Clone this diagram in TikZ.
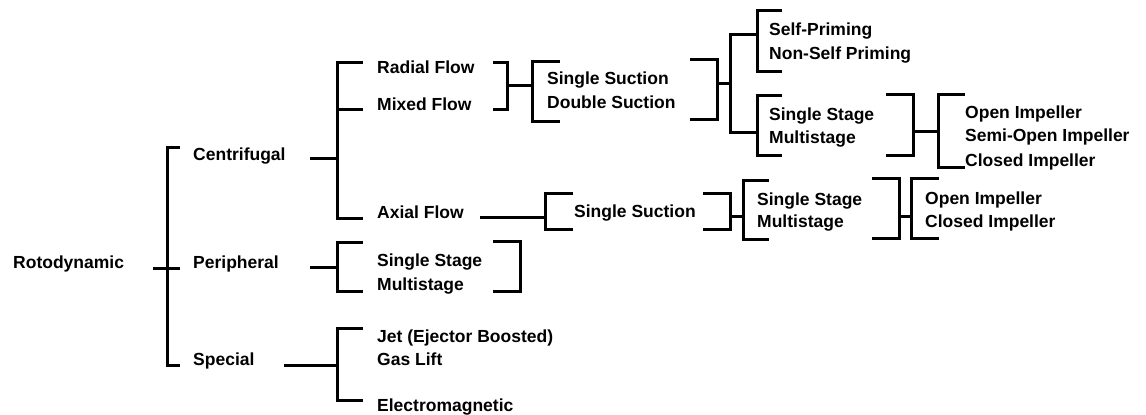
\documentclass[tikz,border=0pt]{standalone}
\usepackage{fontspec}
\setmainfont{Liberation Sans}
\newcommand{\lblfont}{\bfseries\fontsize{17.5}{21}\selectfont}
\tikzset{
  lbl/.style={anchor=base west,inner sep=0pt,font=\lblfont},
  brk/.style={line width=3pt,line join=miter}
}
\begin{document}
\begin{tikzpicture}[x=1pt,y=-1pt]
  \useasboundingbox (0,0) rectangle (1146,415);
  % labels
  \node[lbl] (rot) at (13,268) {Rotodynamic};
  \node[lbl] (cen) at (193,160) {Centrifugal};
  \node[lbl] (per) at (193,268) {Peripheral};
  \node[lbl] (spe) at (193,365) {Special};
  \node[lbl] (rad) at (377,73) {Radial Flow};
  \node[lbl] (mix) at (377,110) {Mixed Flow};
  \node[lbl] (axi) at (377,218) {Axial Flow};
  \node[lbl] (pss) at (377,266) {Single Stage};
  \node[lbl] (pms) at (377,290) {Multistage};
  \node[lbl] (jet) at (377,342) {Jet (Ejector Boosted)};
  \node[lbl] (gas) at (377,365) {Gas Lift};
  \node[lbl] (elm) at (377,411) {Electromagnetic};
  \node[lbl] (ssu) at (547,84) {Single Suction};
  \node[lbl] (dsu) at (547,108) {Double Suction};
  \node[lbl] (spr) at (769,35) {Self-Priming};
  \node[lbl] (nsp) at (769,59) {Non-Self Priming};
  \node[lbl] (rss) at (769,120) {Single Stage};
  \node[lbl] (rms) at (769,143) {Multistage};
  \node[lbl] (roi) at (965,118) {Open Impeller};
  \node[lbl] (rso) at (965,141) {Semi-Open Impeller};
  \node[lbl] (rci) at (965,166) {Closed Impeller};
  \node[lbl] (asu) at (574,217) {Single Suction};
  \node[lbl] (ass) at (757,205) {Single Stage};
  \node[lbl] (ams) at (757,227) {Multistage};
  \node[lbl] (aoi) at (925,204) {Open Impeller};
  \node[lbl] (aci) at (925,227) {Closed Impeller};
  % junction points
  \coordinate (rot-o) at (153,268);
  \coordinate (rot-b) at (180,268);
  \coordinate (cen-o) at (310,158);
  \coordinate (cen-b) at (337,158);
  \coordinate (per-o) at (310,267);
  \coordinate (per-b) at (337,267);
  \coordinate (spe-o) at (284,365);
  \coordinate (spe-b) at (337,365);
  \coordinate (flo-o) at (507,85);
  \coordinate (flo-b) at (532,85);
  \coordinate (suc-o) at (717,83);
  \coordinate (suc-b) at (730,83);
  \coordinate (stg-o) at (913,131);
  \coordinate (stg-b) at (938,131);
  \coordinate (axi-o) at (480,217);
  \coordinate (axi-b) at (545,217);
  \coordinate (asu-o) at (730,216);
  \coordinate (asu-b) at (743,216);
  \coordinate (ass-o) at (899,216);
  \coordinate (ass-b) at (911,216);
  \begin{scope}[brk]
    % rotodynamic
    \draw (180,147) -| (167,365) -- (180,365);
    \draw (rot-o) -- (rot-b);
    % centrifugal
    \draw (cen-o) -- (cen-b);
    \draw (363,62) -| (337,218) -- (363,218);
    \draw (337,109) -- (363,109);
    \draw (493,62) -| (507,109) -- (493,109);
    \draw (flo-o) -- (flo-b);
    \draw (560,61) -| (532,121) -- (560,121);
    \draw (690,59) -| (717,119) -- (690,119);
    \draw (suc-o) -- (suc-b);
    \draw (757,34) -| (730,132) -- (757,132);
    \draw (782,10) -| (757,71) -- (782,71);
    \draw (782,95) -| (757,155) -- (782,155);
    \draw (886,94) -| (913,155) -- (886,155);
    \draw (stg-o) -- (stg-b);
    \draw (965,94) -| (938,167) -- (965,167);
    % axial
    \draw (axi-o) -- (axi-b);
    \draw (573,193) -| (545,229) -- (573,229);
    \draw (703,193) -| (730,229) -- (703,229);
    \draw (asu-o) -- (asu-b);
    \draw (769,180) -| (743,239) -- (769,239);
    \draw (872,178) -| (899,238) -- (872,238);
    \draw (ass-o) -- (ass-b);
    \draw (939,178) -| (911,238) -- (939,238);
    % peripheral
    \draw (per-o) -- (per-b);
    \draw (363,242) -| (337,291) -- (363,291);
    \draw (493,241) -| (520,291) -- (493,291);
    % special
    \draw (spe-o) -- (spe-b);
    \draw (363,328) -| (337,400) -- (363,400);
  \end{scope}
\end{tikzpicture}
\end{document}
